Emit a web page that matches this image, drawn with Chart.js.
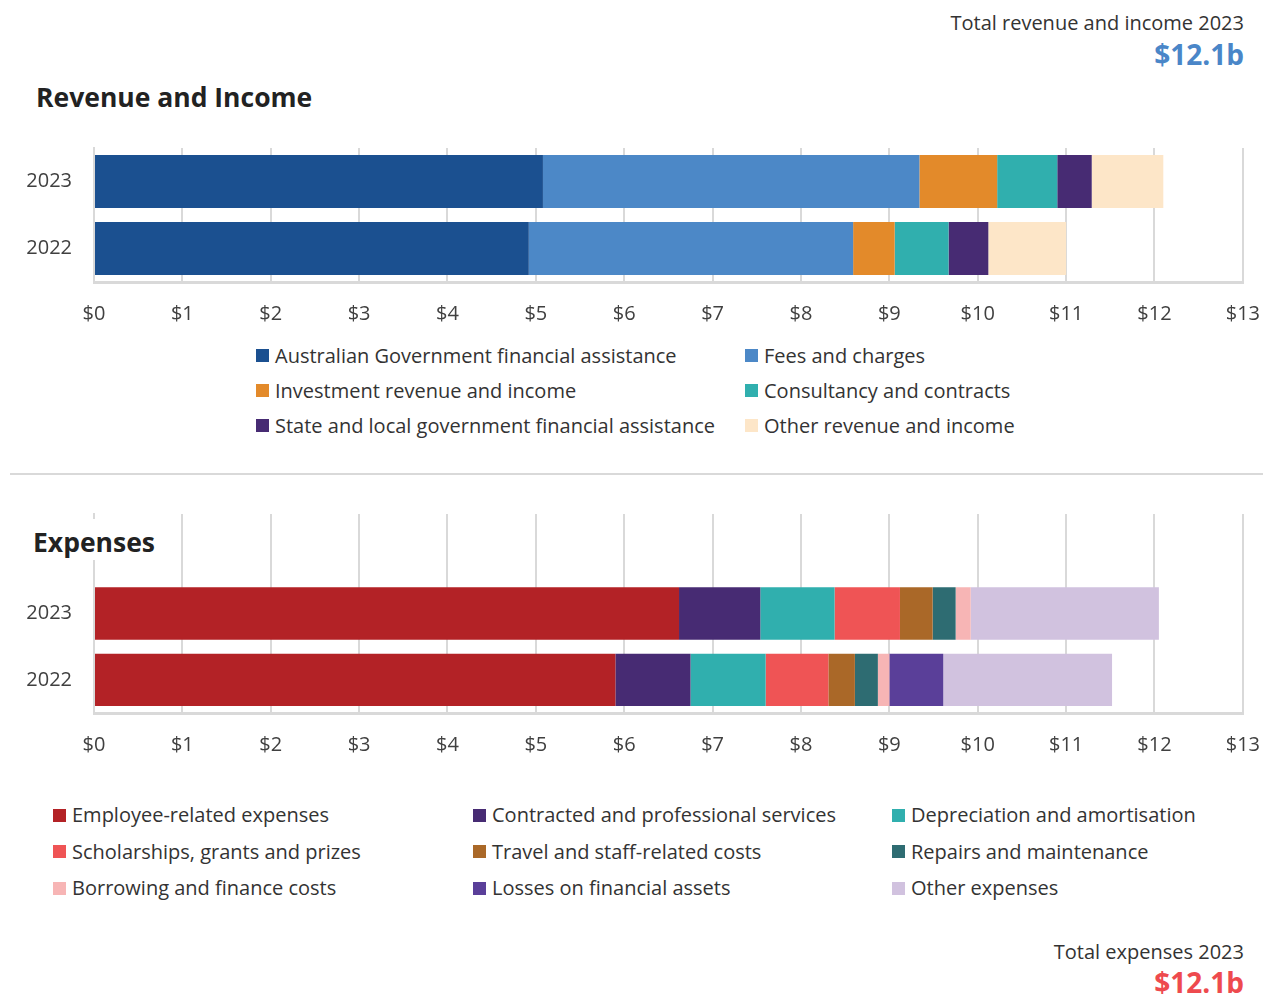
<!DOCTYPE html>
<html>
<head>
<meta charset="utf-8">
<script src="https://cdn.jsdelivr.net/npm/chart.js@4.4.1/dist/chart.umd.min.js"></script>
<style>
  body { margin: 0; background: #fff; font-family: "Open Sans", sans-serif; color: #333; }
  #page { position: relative; width: 1263px; height: 994px; overflow: hidden; }
  .chart { position: absolute; left: 0; width: 1280px; }
  .title { position: absolute; font-weight: 700; font-size: 26.5px; line-height: 27px; color: #222; background: #fff; padding: 4px 6px; }
  .total { position: absolute; right: 19px; font-size: 20px; line-height: 20px; color: #333; text-align: right; }
  .big { position: absolute; right: 19px; font-size: 28px; line-height: 28px; font-weight: 700; text-align: right; }
  .rule { position: absolute; left: 10px; top: 473px; width: 1253px; height: 2px; background: #d9d9d9; }
  .legend { position: absolute; display: grid; font-size: 20px; line-height: 35px; color: #333; }
  .legend span.item { display: flex; align-items: center; white-space: nowrap; }
  .legend i { display: inline-block; flex-shrink: 0; width: 13px; height: 13px; margin-right: 6px; }
</style>
</head>
<body>
<div id="page">
  <div class="total" style="top:13px">Total revenue and income 2023</div>
  <div class="big" style="top:40px;color:#4a86c8">$12.1b</div>
  <div class="title" style="left:30px;top:80px">Revenue and Income</div>
  <div class="chart" style="top:114px;height:218px"><canvas id="revenue"></canvas></div>
  <div class="legend" id="revLegend" style="left:256px;top:338px;grid-template-columns:489px 330px"></div>

  <div class="rule"></div>

  <div class="chart" style="top:480px;height:283px"><canvas id="expenses"></canvas></div>
  <div class="title" style="left:27px;top:519px;padding-top:10px">Expenses</div>
  <div class="legend" id="expLegend" style="left:53px;top:797px;line-height:36.5px;grid-template-columns:420px 419px 340px"></div>

  <div class="total" style="top:942px">Total expenses 2023</div>
  <div class="big" style="top:968px;color:#ee4a4e">$12.1b</div>
</div>

<script>
// Years shown on the bars
const years = ["2023", "2022"];

// Revenue and income ($b)
const revenueLabels = [
  "Australian Government financial assistance",
  "Fees and charges",
  "Investment revenue and income",
  "Consultancy and contracts",
  "State and local government financial assistance",
  "Other revenue and income",
];
const revenue2023 = [5.08, 4.26, 0.88, 0.68, 0.39, 0.81];
const revenue2022 = [4.92, 3.67, 0.47, 0.61, 0.45, 0.88];
const revenueColors = ["#1b5090", "#4c88c7", "#e38a2a", "#30afae", "#472b73", "#fde6c8"];

// Expenses ($b)
const expenseLabels = [
  "Employee-related expenses",
  "Contracted and professional services",
  "Depreciation and amortisation",
  "Scholarships, grants and prizes",
  "Travel and staff-related costs",
  "Repairs and maintenance",
  "Borrowing and finance costs",
  "Losses on financial assets",
  "Other expenses",
];
const expense2023 = [6.62, 0.92, 0.84, 0.74, 0.37, 0.26, 0.17, 0, 2.13];
const expense2022 = [5.90, 0.85, 0.85, 0.71, 0.30, 0.26, 0.13, 0.61, 1.91];
const expenseColors = ["#b32226", "#472b73", "#30afae", "#ef5455", "#aa6828", "#2e6c72", "#f7b5b5", "#5a3f99", "#d1c2df"];

// Axis ticks ($b)
const tickMax = 13;

const gridColor = "#d9d9d9";

// Build one stacked horizontal bar chart
const makeChart = (canvas, labels, colors, v2023, v2022, emptyRow) => {
  // the expenses chart has an empty row on top so its grid runs up behind the title
  const cats = emptyRow ? [""].concat(years) : years;
  const datasets = labels.map((label, i) => ({
    label: label,
    backgroundColor: colors[i],
    borderWidth: 0,
    data: (emptyRow ? [null] : []).concat([v2023[i], v2022[i]]),
  }));
  return new Chart(canvas, {
    type: "bar",
    data: { labels: cats, datasets: datasets },
    options: {
      indexAxis: "y",
      responsive: true,
      maintainAspectRatio: false,
      animation: false,
      layout: { padding: 0 },
      datasets: { bar: { categoryPercentage: 1, barPercentage: 0.79 } },
      plugins: { legend: { display: false }, tooltip: { enabled: false } },
      scales: {
        x: {
          stacked: true,
          min: 0,
          max: tickMax,
          ticks: {
            stepSize: 1,
            padding: 20,
            color: "#404040",
            font: { family: "Open Sans", size: 20 },
            callback: (v) => "$" + v,
          },
          grid: { color: gridColor, lineWidth: 2, drawTicks: false },
          border: { color: gridColor, width: 3 },
          afterFit: (s) => { s.height = 50; },
        },
        y: {
          stacked: true,
          ticks: {
            padding: 22,
            color: "#404040",
            font: { family: "Open Sans", size: 20 },
          },
          grid: { display: false, drawTicks: false },
          border: { color: gridColor, width: 2 },
          afterFit: (s) => { s.width = 94; },
        },
      },
    },
  });
};

makeChart(document.getElementById("revenue"), revenueLabels, revenueColors, revenue2023, revenue2022, false);
makeChart(document.getElementById("expenses"), expenseLabels, expenseColors, expense2023, expense2022, true);

// HTML legends
const fillLegend = (el, labels, colors) => {
  el.innerHTML = labels
    .map((l, i) => `<span class="item"><i style="background:${colors[i]}"></i>${l}</span>`)
    .join("");
};
fillLegend(document.getElementById("revLegend"), revenueLabels, revenueColors);
fillLegend(document.getElementById("expLegend"), expenseLabels, expenseColors);
</script>
</body>
</html>
